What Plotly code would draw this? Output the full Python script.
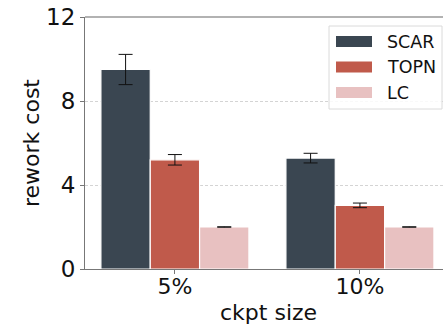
import plotly.graph_objects as go

# Data
categories = ["5%", "10%"]
series_names = ["SCAR", "TOPN", "LC"]
scar_cost = [9.5, 5.28]
scar_err = [0.72, 0.23]
topn_cost = [5.2, 3.03]
topn_err = [0.25, 0.11]
lc_cost = [2.0, 2.0]
lc_err = [0.01, 0.01]
y_ticks = [0, 4, 8, 12]

colors = {"SCAR": "#3a4651", "TOPN": "#c05a4b", "LC": "#e8c1c1"}
values = {"SCAR": (scar_cost, scar_err), "TOPN": (topn_cost, topn_err), "LC": (lc_cost, lc_err)}

FONT = "DejaVu Sans"
W, H = 443, 325
L, T, B = 85, 17, 56
plot_w = W - L
plot_h = H - T - B

fig = go.Figure()
for name in series_names:
    v, e = values[name]
    fig.add_trace(go.Bar(
        x=categories, y=v, name=name,
        marker=dict(color=colors[name], line=dict(color="white", width=1.2)),
        error_y=dict(type="data", array=e, visible=True, color="#111111",
                     thickness=1, width=7),
        showlegend=False,
    ))

# pixel -> paper helpers for the hand-built legend
def px_x(p):
    return (p - L) / plot_w

def px_y(p):
    return (H - B - p) / plot_h

shapes = []
annotations = []
# top spine
shapes.append(dict(type="line", xref="paper", yref="paper", x0=0, x1=1.05, y0=1, y1=1,
                   line=dict(color="#666666", width=1.2), layer="above"))
# legend frame
shapes.append(dict(type="rect", xref="paper", yref="paper",
                   x0=px_x(329), x1=px_x(442), y0=px_y(109), y1=px_y(26),
                   line=dict(color="#dadada", width=1), fillcolor="rgba(255,255,255,0.85)",
                   layer="above"))
for i, name in enumerate(series_names):
    cy = 41.5 + i * 25.5
    shapes.append(dict(type="rect", xref="paper", yref="paper",
                       x0=px_x(336), x1=px_x(372), y0=px_y(cy + 5.5), y1=px_y(cy - 5.5),
                       line=dict(width=0), fillcolor=colors[name], layer="above"))
    annotations.append(dict(text=name, xref="paper", yref="paper",
                            x=px_x(385), y=px_y(cy), xanchor="left", yanchor="middle",
                            showarrow=False, font=dict(family=FONT, size=17.5, color="#111111")))

# axis titles
annotations.append(dict(text="rework cost", xref="paper", yref="paper",
                        x=px_x(31), y=px_y(143), textangle=-90,
                        xanchor="center", yanchor="middle", showarrow=False,
                        font=dict(family=FONT, size=22, color="#111111")))
annotations.append(dict(text="ckpt size", xref="paper", yref="paper",
                        x=px_x(268), y=px_y(312), xanchor="center", yanchor="middle",
                        showarrow=False, font=dict(family=FONT, size=22, color="#111111")))

fig.update_layout(
    width=W, height=H,
    margin=dict(l=L, r=0, t=T, b=B, pad=0),
    paper_bgcolor="white", plot_bgcolor="white",
    barmode="group", bargap=0.2, bargroupgap=0,
    font=dict(family=FONT, size=22, color="#111111"),
    shapes=shapes, annotations=annotations,
    xaxis=dict(
        type="category", range=[-0.486, 1.449],
        showline=True, linecolor="#777777", linewidth=1.2,
        ticks="outside", ticklen=4, tickcolor="#777777",
        ticklabelstandoff=-7,
        showgrid=False, tickfont=dict(family=FONT, size=22, color="#111111"),
    ),
    yaxis=dict(
        range=[0, 12], tickvals=y_ticks,
        showline=True, linecolor="#777777", linewidth=1.2,
        ticks="outside", ticklen=4, tickcolor="#777777",
        showgrid=True, gridcolor="#d4d4d4", griddash="3px,2px", gridwidth=1,
        zeroline=False, tickfont=dict(family=FONT, size=23, color="#111111"),
    ),
)

fig.write_html("out.html")
